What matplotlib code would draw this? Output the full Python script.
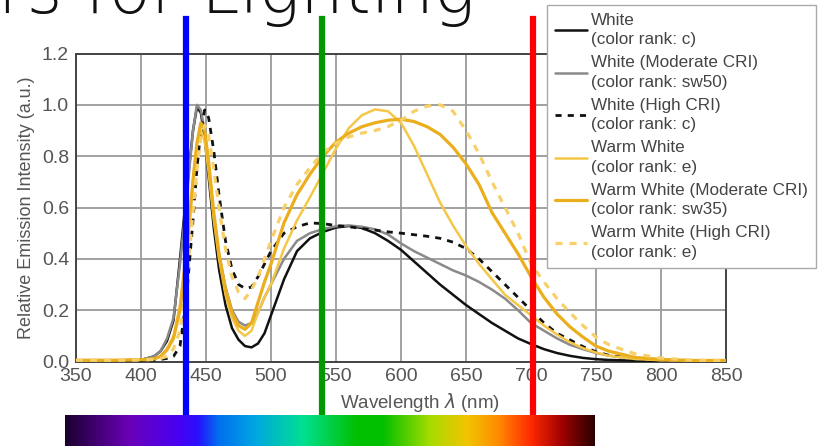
import matplotlib
matplotlib.use("Agg")
import matplotlib.pyplot as plt
from matplotlib.colors import LinearSegmentedColormap
import numpy as np

# ---------------- data ----------------
wavelength = [350, 380, 400, 410, 415, 420, 425, 430, 435, 440, 443, 446, 449, 452, 456,
              460, 465, 470, 475, 480, 485, 490, 495, 500, 510, 520, 530, 540, 550, 560,
              570, 580, 590, 600, 610, 620, 630, 640, 650, 660, 670, 680, 690, 700, 710,
              720, 730, 740, 750, 760, 780, 800, 825, 850]

white = [0.003, 0.003, 0.006, 0.02, 0.04, 0.08, 0.16, 0.40, 0.66, 0.90, 0.99, 0.97, 0.87, 0.72, 0.52,
         0.36, 0.22, 0.13, 0.085, 0.06, 0.055, 0.07, 0.11, 0.18, 0.32, 0.43, 0.48, 0.505, 0.522, 0.528,
         0.52, 0.50, 0.47, 0.435, 0.39, 0.345, 0.30, 0.26, 0.22, 0.185, 0.15, 0.12, 0.09, 0.068, 0.048,
         0.033, 0.022, 0.014, 0.009, 0.006, 0.003, 0.002, 0.001, 0.001]

white_moderate = [0.003, 0.003, 0.006, 0.02, 0.04, 0.09, 0.17, 0.38, 0.63, 0.90, 1.00, 0.98, 0.90, 0.76, 0.57,
                  0.42, 0.29, 0.20, 0.155, 0.14, 0.15, 0.19, 0.25, 0.30, 0.40, 0.47, 0.50, 0.516, 0.527, 0.53,
                  0.525, 0.515, 0.495, 0.46, 0.43, 0.405, 0.38, 0.355, 0.335, 0.31, 0.28, 0.245, 0.20, 0.15, 0.12,
                  0.09, 0.065, 0.048, 0.033, 0.023, 0.01, 0.005, 0.002, 0.001]

white_high = [0.002, 0.002, 0.003, 0.005, 0.008, 0.012, 0.02, 0.06, 0.25, 0.55, 0.75, 0.90, 0.98, 0.95, 0.82,
              0.65, 0.47, 0.36, 0.30, 0.285, 0.29, 0.33, 0.38, 0.43, 0.50, 0.525, 0.54, 0.537, 0.53, 0.525,
              0.518, 0.512, 0.505, 0.50, 0.494, 0.488, 0.48, 0.465, 0.44, 0.40, 0.35, 0.30, 0.25, 0.20, 0.15,
              0.11, 0.084, 0.058, 0.038, 0.024, 0.01, 0.003, 0.001, 0.001]

warm_white = [0.005, 0.005, 0.007, 0.01, 0.02, 0.05, 0.10, 0.22, 0.45, 0.72, 0.85, 0.90, 0.86, 0.74, 0.55,
              0.40, 0.26, 0.17, 0.12, 0.10, 0.12, 0.19, 0.25, 0.30, 0.44, 0.55, 0.64, 0.735, 0.83, 0.91,
              0.96, 0.982, 0.975, 0.93, 0.84, 0.73, 0.62, 0.53, 0.45, 0.38, 0.32, 0.26, 0.22, 0.18, 0.14,
              0.105, 0.075, 0.052, 0.035, 0.022, 0.01, 0.005, 0.004, 0.004]

warm_moderate = [0.005, 0.005, 0.007, 0.01, 0.02, 0.045, 0.09, 0.20, 0.42, 0.70, 0.85, 0.93, 0.90, 0.78, 0.58,
                 0.42, 0.28, 0.19, 0.14, 0.125, 0.15, 0.23, 0.31, 0.38, 0.54, 0.65, 0.73, 0.80, 0.855, 0.89,
                 0.915, 0.93, 0.94, 0.944, 0.935, 0.915, 0.885, 0.835, 0.77, 0.69, 0.58, 0.50, 0.42, 0.33, 0.25,
                 0.185, 0.135, 0.095, 0.06, 0.04, 0.016, 0.008, 0.004, 0.004]

warm_high = [0.005, 0.005, 0.006, 0.008, 0.012, 0.02, 0.05, 0.12, 0.30, 0.58, 0.75, 0.87, 0.92, 0.88, 0.75,
             0.60, 0.44, 0.33, 0.27, 0.245, 0.28, 0.33, 0.40, 0.47, 0.60, 0.69, 0.755, 0.815, 0.85, 0.875,
             0.89, 0.90, 0.915, 0.94, 0.975, 0.995, 1.00, 0.975, 0.90, 0.81, 0.70, 0.60, 0.50, 0.38, 0.31,
             0.245, 0.19, 0.14, 0.095, 0.065, 0.03, 0.013, 0.005, 0.004]

labels = ["White\n(color rank: c)",
          "White (Moderate CRI)\n(color rank: sw50)",
          "White (High CRI)\n(color rank: c)",
          "Warm White\n(color rank: e)",
          "Warm White (Moderate CRI)\n(color rank: sw35)",
          "Warm White (High CRI)\n(color rank: e)"]

x_ticks = [350, 400, 450, 500, 550, 600, 650, 700, 750, 800, 850]
y_ticks = [0.0, 0.2, 0.4, 0.6, 0.8, 1.0, 1.2]
marker_lines = [434.5, 539, 701.5]  # blue, green, red reference lines (nm)

spectrum_stops = [0.0, 0.12, 0.21, 0.25, 0.29, 0.36, 0.45, 0.55, 0.60, 0.69, 0.76, 0.82, 0.88, 0.94, 1.0]
spectrum_colors = ["#1c0030", "#6a00b8", "#4a00f0", "#2a10ff", "#0070f0", "#00a8e0", "#00e090",
                   "#00c000", "#00c000", "#a8dc00", "#f2c400", "#ff8a00", "#ff2a00", "#a00000", "#2a0000"]

# ---------------- figure ----------------
W, H = 828, 446
fig = plt.figure(figsize=(W / 100, H / 100), dpi=100)
fig.patch.set_facecolor("white")

ax = fig.add_axes([76 / W, 1 - 361.5 / H, 650 / W, 308 / H])

styles = [
    dict(color="#111111", lw=1.8, ls="-"),
    dict(color="#8a8a8a", lw=1.8, ls="-"),
    dict(color="#111111", lw=2.0, ls=(0, (2.2, 2.2))),
    dict(color="#f5c748", lw=1.8, ls="-"),
    dict(color="#ebae1c", lw=2.3, ls="-"),
    dict(color="#f7d06a", lw=2.3, ls=(0, (2.2, 2.2))),
]
series = [white, white_moderate, white_high, warm_white, warm_moderate, warm_high]
handles = []
for s, st, lab in zip(series, styles, labels):
    h, = ax.plot(wavelength, s, label=lab, zorder=3, solid_capstyle="round", **st)
    handles.append(h)

ax.set_xlim(350, 850)
ax.set_ylim(0, 1.2)
ax.set_xticks(x_ticks)
ax.set_yticks(y_ticks)
ax.set_yticklabels([f"{v:.1f}" for v in y_ticks])
ax.grid(True, color="#9a9a9a", lw=1.3)
ax.set_axisbelow(True)
ax.tick_params(length=0, labelsize=14, labelcolor="#555555", pad=5)
for lab in ax.get_xticklabels() + ax.get_yticklabels():
    lab.set_family(["Liberation Sans", "DejaVu Sans"])
for sp in ax.spines.values():
    sp.set_color("#444444")
    sp.set_linewidth(1.4)

ax.set_ylabel("Relative Emission Intensity (a.u.)", fontsize=13, color="#555555",
              family=["Liberation Sans", "DejaVu Sans"], labelpad=5)
fig.text(420 / W, 1 - 402 / H, "Wavelength $\\lambda$ (nm)", ha="center", va="center",
         fontsize=13.5, color="#555555", family=["Liberation Sans", "DejaVu Sans"])

# legend
leg = fig.legend(handles=handles, labels=labels, loc="upper left",
                 bbox_to_anchor=(547 / W, 1 - 5 / H), bbox_transform=fig.transFigure,
                 frameon=True, fancybox=False, framealpha=1.0, edgecolor="#aaaaaa",
                 prop=dict(family=["Liberation Sans", "DejaVu Sans"], size=12.3),
                 handlelength=1.9, handletextpad=0.25, labelspacing=0.45, borderpad=0.45,
                 borderaxespad=0)
for t in leg.get_texts():
    t.set_color("#444444")
    t.set_linespacing(1.4)
leg.get_frame().set_linewidth(1.0)

# spectrum bar
bax = fig.add_axes([65 / W, 0, 530 / W, 31 / H])
cmap = LinearSegmentedColormap.from_list("spec", list(zip(spectrum_stops, spectrum_colors)))
bax.imshow(np.linspace(0, 1, 512)[None, :], aspect="auto", cmap=cmap, extent=(0, 1, 0, 1))
bax.set_axis_off()

# vertical reference lines (through axes, from top to bar)
ymax = (361.5 - 19) / 308
ymin = (361.5 - 415) / 308
for xv, c in zip(marker_lines, ["#0000ff", "#009a00", "#ff0000"]):
    ax.axvline(xv, ymin=ymin, ymax=ymax, color=c, lw=4.5, clip_on=False, zorder=10)

# partial title (cut at the top edge, as in the reference)
title = fig.text(-2 / W, 1 - 13 / H, "rs for Lighting", ha="left", va="baseline",
                 fontsize=44, color="#111111", family=["DejaVu Sans"], fontweight="light")
fig.canvas.draw()
bb = title.get_window_extent()
title.set_fontsize(44 * 477 / bb.width)

fig.savefig("out.png", dpi=100, facecolor="white")
